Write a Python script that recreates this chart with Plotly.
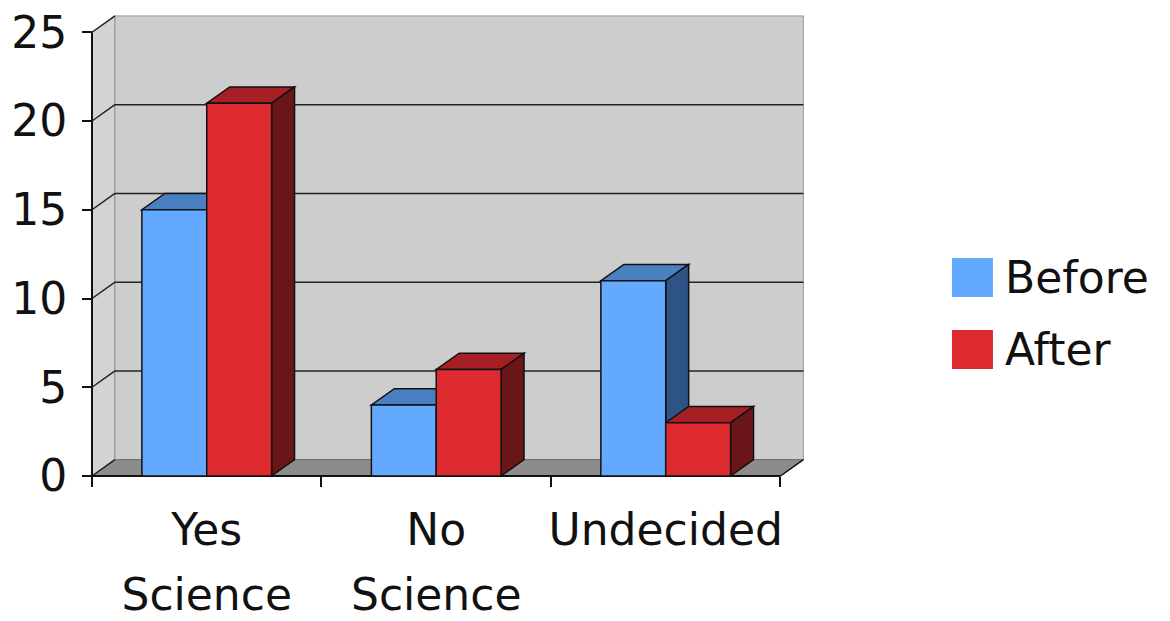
import plotly.graph_objects as go

# ---- data ----
categories = ["Yes<br>Science", "No<br>Science", "Undecided"]
before = [15, 4, 11]
after = [21, 6, 3]
series_names = ["Before", "After"]
y_ticks = [0, 5, 10, 15, 20, 25]

# ---- styling ----
FONT = "DejaVu Sans"
FONT_SIZE = 44
TEXT_COLOR = "#111111"
colors = {
    "Before": {"front": "#63A9FF", "top": "#4A7FC2", "side": "#2E5485"},
    "After": {"front": "#DC2A2F", "top": "#A61F24", "side": "#6A1518"},
}
WALL_BACK = "#CDCDCD"
WALL_LEFT = "#D3D3D3"
FLOOR = "#8C8C8C"
EDGE = "#111111"

# ---- geometry of the pseudo-3D box (axis units) ----
W, H = 1170, 621
X_PX = 229.5          # pixels per category
Y_PX = 17.75          # pixels per value unit
DX, DY = 0.10, 0.92   # depth offset of the back plane
BAR_W = 0.2826
x_lo, x_hi = -0.5, 2.5
y_top = y_ticks[-1]
pad = 5

xmin = x_lo - pad / X_PX
xmax = x_hi + DX + 0.02
ymin = -pad / Y_PX
left = 92 - pad
top = 8
bottom = H - 476 - pad
plot_w = (xmax - xmin) * X_PX
right = W - left - plot_w
plot_h = H - top - bottom
ymax = ymin + plot_h / Y_PX

fx = (0 - ymin) / (ymax - ymin)        # paper position of the x axis
fy = (x_lo - xmin) / (xmax - xmin)     # paper position of the y axis


def poly(pts):
    return "M " + " L ".join(f"{x},{y}" for x, y in pts) + " Z"


shapes = []


def add_poly(pts, fill, line_color=EDGE, lw=1.5):
    shapes.append(dict(type="path", path=poly(pts), xref="x", yref="y",
                       fillcolor=fill, line=dict(color=line_color, width=lw),
                       layer="below"))


def add_line(x0, y0, x1, y1, color=EDGE, lw=1.5):
    shapes.append(dict(type="line", x0=x0, y0=y0, x1=x1, y1=y1, xref="x", yref="y",
                       line=dict(color=color, width=lw), layer="below"))


# walls and floor
add_poly([(x_lo, 0), (x_lo + DX, DY), (x_lo + DX, y_top + DY), (x_lo, y_top)],
         WALL_LEFT, "#8A8A8A", 1)
add_poly([(x_lo + DX, DY), (x_hi + DX, DY), (x_hi + DX, y_top + DY), (x_lo + DX, y_top + DY)],
         WALL_BACK, "#9A9A9A", 1)
add_poly([(x_lo, 0), (x_hi, 0), (x_hi + DX, DY), (x_lo + DX, DY)], FLOOR, "#6A6A6A", 1)

# gridlines on the back wall and the left wall
for v in y_ticks:
    if 0 < v < y_top:
        add_line(x_lo + DX, v + DY, x_hi + DX, v + DY, "#222222", 1.5)
    add_line(x_lo, v, x_lo + DX, v + DY, "#222222", 1.5)

# front axis lines
add_line(x_lo, 0, x_lo, y_top, EDGE, 2)
add_line(x_lo, 0, x_hi, 0, EDGE, 2)
add_line(x_hi, 0, x_hi + DX, DY, EDGE, 1.5)

# top and side faces of the bars
for s_idx, (name, vals) in enumerate(zip(series_names, [before, after])):
    for i, v in enumerate(vals):
        cx = i + (s_idx - 0.5) * BAR_W
        x0, x1 = cx - BAR_W / 2, cx + BAR_W / 2
        add_poly([(x0, v), (x1, v), (x1 + DX, v + DY), (x0 + DX, v + DY)],
                 colors[name]["top"])
        add_poly([(x1, 0), (x1 + DX, DY), (x1 + DX, v + DY), (x1, v)],
                 colors[name]["side"])

fig = go.Figure()
for name, vals in zip(series_names, [before, after]):
    fig.add_trace(go.Bar(
        x=list(range(len(categories))), y=vals, name=name,
        marker=dict(color=colors[name]["front"], line=dict(color=EDGE, width=1.5)),
        showlegend=False, hoverinfo="y+name",
    ))

# category labels: first and second line on two overlaid axes
label_lines = [c.split("<br>") for c in categories]
first_lines = [parts[0] for parts in label_lines]
second_lines = [parts[1] if len(parts) > 1 else "" for parts in label_lines]
for ax in ("x2", "x3"):
    fig.add_trace(go.Scatter(x=list(range(len(categories))), y=[None] * len(categories),
                             xaxis=ax, mode="markers", showlegend=False, hoverinfo="skip"))


def px_to_paper(px, py):
    return (px - left) / plot_w, (H - bottom - py) / plot_h


# legend
annotations = []
for name, (sy0, sy1) in zip(series_names, [(258, 297), (330, 369)]):
    ax0, ay0 = px_to_paper(952, sy1)
    ax1, ay1 = px_to_paper(993, sy0)
    shapes.append(dict(type="rect", xref="paper", yref="paper", x0=ax0, y0=ay0, x1=ax1, y1=ay1,
                       fillcolor=colors[name]["front"], line=dict(width=0)))
    tx, ty = px_to_paper(1003, (sy0 + sy1) / 2)
    annotations.append(dict(text=name, xref="paper", yref="paper", x=tx, y=ty,
                            xanchor="left", yanchor="middle", showarrow=False,
                            font=dict(family=FONT, size=FONT_SIZE, color=TEXT_COLOR)))

label_axis = dict(range=[xmin, xmax], overlaying="x", anchor="free", position=fx,
                  automargin=False, tickmode="array", tickvals=list(range(len(categories))),
                  ticks="", showgrid=False, zeroline=False, showline=False,
                  ticklabeloverflow="allow",
                  tickfont=dict(family=FONT, size=FONT_SIZE, color=TEXT_COLOR))

fig.update_layout(
    width=W, height=H,
    margin=dict(l=left, r=right, t=top, b=bottom, pad=0, autoexpand=False),
    paper_bgcolor="white", plot_bgcolor="white",
    barmode="group", bargap=1 - 2 * BAR_W, bargroupgap=0,
    font=dict(family=FONT, size=FONT_SIZE, color=TEXT_COLOR),
    shapes=shapes, annotations=annotations,
    xaxis=dict(range=[xmin, xmax], anchor="free", position=fx, automargin=False,
               tickmode="array", tickvals=[x_lo + k for k in range(len(categories) + 1)],
               ticks="outside", ticklen=10, tickwidth=2, tickcolor=EDGE,
               showticklabels=False, showgrid=False, zeroline=False, showline=False),
    xaxis2=dict(label_axis, ticktext=first_lines, ticklabelstandoff=24),
    xaxis3=dict(label_axis, ticktext=second_lines, ticklabelstandoff=89),
    yaxis=dict(range=[ymin, ymax], anchor="free", position=fy, automargin=False,
               tickmode="array", tickvals=y_ticks,
               ticks="outside", ticklen=10, tickwidth=2, tickcolor=EDGE,
               ticklabelstandoff=6, ticklabeloverflow="allow",
               showgrid=False, zeroline=False, showline=False,
               tickfont=dict(family=FONT, size=FONT_SIZE, color=TEXT_COLOR)),
)

fig.write_html("out.html")
